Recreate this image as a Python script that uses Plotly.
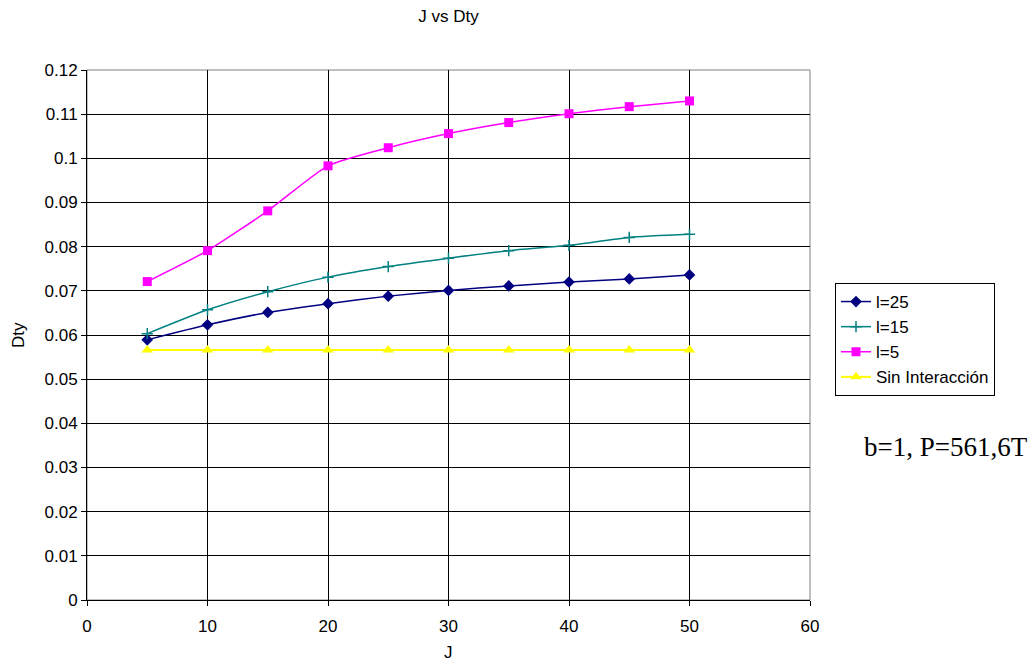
import plotly.graph_objects as go

# J values (x axis)
j_vals = [5, 10, 15, 20, 25, 30, 35, 40, 45, 50]

# Dty per series
dty_l25 = [0.0589, 0.0623, 0.0651, 0.0671, 0.0688, 0.0701, 0.0711, 0.0720, 0.0727, 0.0736]
dty_l15 = [0.0603, 0.0657, 0.0698, 0.0731, 0.0755, 0.0774, 0.0791, 0.0803, 0.0821, 0.0828]
dty_l5 = [0.0721, 0.0791, 0.0881, 0.0983, 0.1024, 0.1056, 0.1081, 0.1101, 0.1117, 0.1130]
dty_sin = [0.0566] * 10

series_names = ["l=25", "l=15", "l=5", "Sin Interacción"]

y_tickvals = [0, 0.01, 0.02, 0.03, 0.04, 0.05, 0.06, 0.07, 0.08, 0.09, 0.1, 0.11, 0.12]
y_ticktext = ["0", "0.01", "0.02", "0.03", "0.04", "0.05", "0.06", "0.07", "0.08",
              "0.09", "0.1", "0.11", "0.12"]
x_tickvals = [0, 10, 20, 30, 40, 50, 60]

FONT = "Liberation Sans, Arial, sans-serif"

styles = [
    dict(color="#000080", symbol="diamond", size=9, lw=1.5),
    dict(color="#008080", symbol="cross-thin", size=8, lw=1.5),
    dict(color="#FF00FF", symbol="square", size=9, lw=1.5),
    dict(color="#FFFF00", symbol="triangle-up", size=10, lw=2),
]

fig = go.Figure()
for i, (name, ys, st) in enumerate(zip(series_names, [dty_l25, dty_l15, dty_l5, dty_sin], styles)):
    marker = dict(symbol=st["symbol"], size=st["size"], color=st["color"])
    if st["symbol"] == "cross-thin":
        marker["line"] = dict(color=st["color"], width=1.5)
    fig.add_trace(go.Scatter(
        x=j_vals, y=ys, name=name, mode="lines+markers",
        line=dict(color=st["color"], width=st["lw"], shape="spline", smoothing=0.6),
        marker=marker, legendgroup=f"g{i}",
    ))

L, R, T, B = 87, 223, 70, 65
PW, PH = 1033 - L - R, 665 - T - B

fig.update_layout(
    width=1033, height=665,
    margin=dict(l=L, r=R, t=T, b=B),
    paper_bgcolor="white", plot_bgcolor="white",
    font=dict(family=FONT, size=17, color="black"),
    title=dict(text="J vs Dty", x=(L + L + PW) / 2 / 1033, xanchor="center",
               y=1 - 16 / 665, yanchor="middle", font=dict(size=17)),
    showlegend=True,
    legend=dict(x=(835 - L) / PW, y=(665 - B - 283) / PH, xanchor="left", yanchor="top",
                bordercolor="black", borderwidth=1, bgcolor="white",
                font=dict(size=17), tracegroupgap=0, itemwidth=30),
    annotations=[
        dict(text="b=1, P=561,6T", xref="paper", yref="paper",
             x=(862 - L) / PW, y=(665 - B - 447) / PH, xanchor="left", yanchor="middle",
             showarrow=False,
             font=dict(family="Liberation Serif, Times New Roman, serif", size=27)),
        # axis titles
        dict(text="J", xref="paper", yref="paper", x=0.5, y=-(652 - (665 - B)) / PH,
             xanchor="center", yanchor="middle", showarrow=False, font=dict(size=17)),
        dict(text="Dty", xref="paper", yref="paper", x=-(L - 18) / PW, y=0.5,
             xanchor="center", yanchor="middle", textangle=-90, showarrow=False,
             font=dict(size=17)),
    ],
    shapes=[dict(type="rect", xref="paper", yref="paper", x0=0, y0=0, x1=1, y1=1,
                 line=dict(color="#808080", width=1), layer="below")],
)

fig.update_xaxes(
    range=[0, 60], tickvals=x_tickvals, showgrid=True, gridcolor="black", gridwidth=1,
    showline=True, linecolor="black", linewidth=1, ticks="outside", ticklen=5,
    tickcolor="black", zeroline=False, ticklabelstandoff=6, automargin=False,
)
fig.update_yaxes(
    range=[0, 0.12], tickvals=y_tickvals, ticktext=y_ticktext, showgrid=True,
    gridcolor="black", gridwidth=1, showline=True, linecolor="black", linewidth=1,
    ticks="outside", ticklen=5, tickcolor="black", zeroline=False, automargin=False,
)

fig.write_html("out.html")
